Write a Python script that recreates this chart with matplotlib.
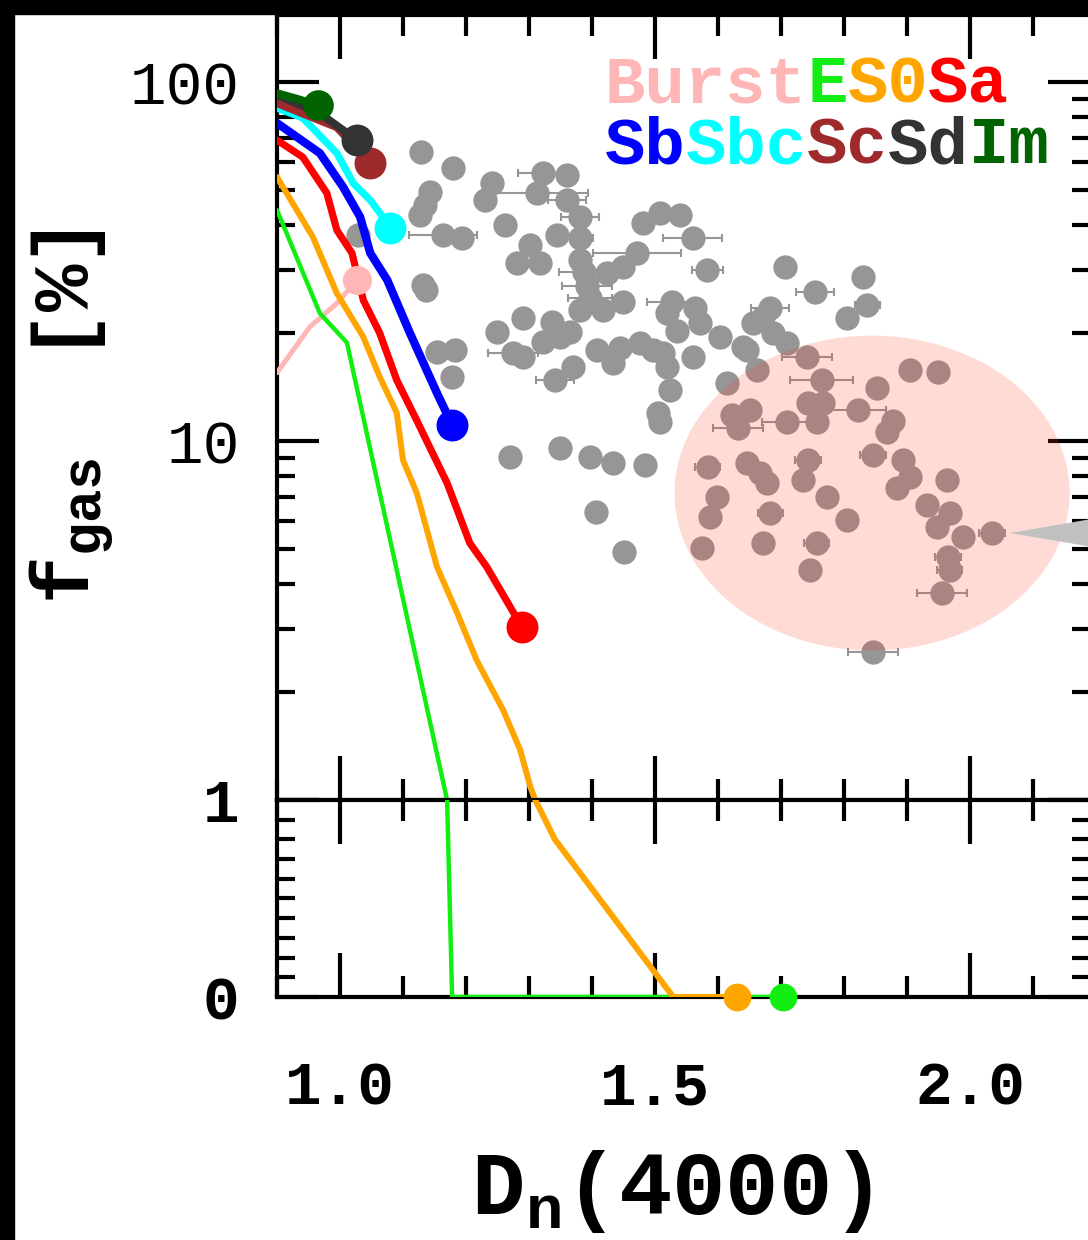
import matplotlib.pyplot as plt
import matplotlib.ticker as mticker
from matplotlib.patches import Ellipse, Polygon, Rectangle

plt.rcParams["font.family"] = ["Liberation Mono", "DejaVu Sans"]
plt.rcParams["mathtext.fontset"] = "custom"
plt.rcParams["mathtext.rm"] = "Liberation Mono"
plt.rcParams["mathtext.bf"] = "Liberation Mono:bold"
plt.rcParams["mathtext.it"] = "Liberation Mono:italic"

# model tracks: D_n(4000) vs f_gas [%]
burst_x = [0.90, 0.952, 0.995, 1.027]
burst_y = [15.5, 20.8, 24.2, 28.1]
e_x = [0.90, 0.968, 1.011, 1.170, 1.178, 1.703]
e_y = [44.0, 22.7, 18.8, 1.0, 0.0, 0.0]
s0_x = [0.90, 0.957, 0.995, 1.037, 1.063, 1.090, 1.100, 1.122, 1.154, 1.186,
        1.217, 1.259, 1.286, 1.302, 1.310, 1.341, 1.529, 1.630]
s0_y = [54.4, 37.0, 25.8, 19.5, 15.1, 12.0, 8.85, 7.16, 4.46, 3.32,
        2.45, 1.78, 1.38, 1.09, 1.00, 0.80, 0.0, 0.0]
sa_x = [0.90, 0.941, 0.979, 0.995, 1.019, 1.037, 1.063, 1.090, 1.122, 1.170,
        1.206, 1.233, 1.289]
sa_y = [68.9, 61.8, 49.1, 38.7, 33.4, 24.7, 20.0, 14.8, 11.4, 7.64,
        5.20, 4.46, 3.03]
sb_x = [0.90, 0.968, 1.005, 1.032, 1.048, 1.075, 1.111, 1.154, 1.178]
sb_y = [76.9, 63.4, 51.0, 42.1, 33.4, 28.1, 20.0, 13.6, 11.1]
sbc_x = [0.90, 0.941, 0.995, 1.021, 1.048, 1.068, 1.079]
sbc_y = [84.7, 79.4, 63.4, 52.3, 46.9, 42.1, 39.2]
sc_x = [0.90, 0.995, 1.048]
sc_y = [87.4, 74.9, 59.5]
sd_x = [0.90, 0.965, 1.027]
sd_y = [92.0, 82.5, 68.9]
im_x = [0.90, 0.93, 0.965]
im_y = [93.1, 90.0, 86.3]

# observed galaxies (gray points)
obs_x = [1.129, 1.179, 1.143, 1.135, 1.127, 1.163, 1.194, 1.132, 1.137, 1.154,
         1.183, 1.178, 1.029, 1.241, 1.230, 1.262, 1.322, 1.360, 1.313, 1.360,
         1.381, 1.344, 1.381, 1.302, 1.281, 1.317, 1.381, 1.387, 1.392, 1.397,
         1.471, 1.449, 1.424, 1.481, 1.508, 1.540, 1.560, 1.583, 1.381, 1.417,
         1.449, 1.290, 1.337, 1.365, 1.249, 1.275, 1.290, 1.322, 1.349, 1.341,
         1.370, 1.408, 1.433, 1.444, 1.476, 1.497, 1.513, 1.519, 1.524, 1.505,
         1.508, 1.560, 1.527, 1.519, 1.563, 1.571, 1.535, 1.603, 1.614, 1.706,
         1.754, 1.830, 1.837, 1.805, 1.683, 1.671, 1.656, 1.640, 1.687, 1.710,
         1.646, 1.662, 1.741, 1.905, 1.949, 1.270, 1.349, 1.397, 1.433, 1.484,
         1.406, 1.451, 1.765, 1.852, 1.651, 1.622, 1.632, 1.710, 1.743, 1.767,
         1.757, 1.822, 1.878, 1.868, 1.846, 1.584, 1.646, 1.667, 1.678, 1.743,
         1.735, 1.773, 1.598, 1.587, 1.575, 1.683, 1.671, 1.805, 1.746, 1.757,
         1.894, 1.905, 1.884, 1.963, 1.932, 1.968, 1.948, 1.989, 2.035, 1.965,
         1.968, 1.956, 1.846]
obs_y = [63.8, 57.6, 49.4, 45.4, 42.6, 37.5, 36.8, 27.2, 26.4, 17.7,
         17.9, 15.1, 37.5, 52.3, 46.9, 40.0, 55.8, 55.1, 49.1, 46.9,
         42.1, 37.5, 36.8, 35.2, 31.3, 31.3, 31.9, 29.5, 27.0, 25.0,
         33.4, 30.5, 29.4, 40.5, 43.2, 42.6, 36.8, 29.9, 23.2, 23.2,
         24.4, 22.0, 21.5, 20.1, 20.1, 17.6, 17.1, 18.9, 19.5, 14.8,
         16.1, 17.9, 16.5, 18.2, 18.8, 17.9, 17.6, 16.1, 13.9, 12.0,
         11.3, 17.1, 24.4, 22.7, 23.5, 21.3, 20.2, 19.5, 14.5, 30.5,
         26.0, 28.6, 23.9, 22.0, 23.5, 22.1, 21.3, 18.3, 20.0, 18.8,
         17.9, 15.8, 17.1, 15.8, 15.6, 9.02, 9.57, 9.02, 8.68, 8.57,
         6.34, 4.91, 14.8, 14.1, 12.2, 11.8, 10.9, 11.3, 12.8, 12.8,
         11.3, 12.2, 11.4, 10.6, 9.14, 8.47, 8.68, 8.15, 7.64, 8.85,
         7.78, 6.98, 6.98, 6.14, 5.04, 6.30, 5.20, 6.03, 4.37, 5.20,
         8.85, 7.94, 7.40, 7.78, 6.63, 6.30, 5.76, 5.40, 5.54, 4.75,
         4.37, 3.77, 2.58]
obs_xerr = [0, 0, 0, 0, 0, 0.054, 0, 0, 0, 0,
            0, 0, 0, 0, 0, 0, 0.04, 0, 0.08, 0.03,
            0.03, 0, 0.02, 0, 0, 0, 0, 0.04, 0.04, 0.035,
            0.07, 0, 0, 0, 0, 0, 0.047, 0.025, 0, 0,
            0, 0, 0, 0, 0, 0.04, 0, 0, 0, 0.03,
            0, 0, 0, 0, 0, 0, 0, 0, 0, 0.015,
            0.015, 0, 0.04, 0, 0, 0, 0, 0, 0, 0,
            0.03, 0, 0.02, 0, 0.03, 0, 0, 0, 0, 0,
            0, 0, 0.04, 0, 0, 0, 0, 0, 0, 0,
            0, 0, 0.05, 0, 0, 0, 0.04, 0.04, 0, 0,
            0, 0.045, 0, 0, 0.02, 0.02, 0, 0, 0, 0.02,
            0, 0, 0, 0, 0, 0.02, 0, 0, 0, 0.02,
            0, 0, 0, 0, 0, 0, 0, 0, 0.02, 0.02,
            0.02, 0.04, 0.04]

legend_row1 = [("Burst", "#FFB6B6"), ("E", "#11EE11"), ("S0", "#FFA500"), ("Sa", "#FF0000")]
legend_row2 = [("Sb", "#0000FF"), ("Sbc", "#00FFFF"), ("Sc", "#9E2A2B"), ("Sd", "#333333"), ("Im", "#006400")]

fig = plt.figure(figsize=(10.88, 12.4), dpi=100)
ax = fig.add_axes([0.2546, 0.3548, 0.7472, 0.6331])
ax2 = fig.add_axes([0.2546, 0.1960, 0.7472, 0.1589])

gray = "#969696"
ax.errorbar(obs_x, obs_y, xerr=obs_xerr, fmt="none", ecolor=gray,
            elinewidth=1.5, capsize=3, capthick=1.5, zorder=1)
ax.plot(obs_x, obs_y, "o", color=gray, ms=17.5, mec="none", zorder=1.5)

ax.add_patch(Ellipse((0.732, 0.391), 0.486, 0.401, transform=ax.transAxes,
                     color="#FF3A20", alpha=0.18, lw=0, zorder=3))
ax.add_patch(Polygon([(0.9016, 0.3401), (1.08, 0.372), (1.08, 0.309)],
                     closed=True, transform=ax.transAxes, color="#C0C0C0",
                     lw=0, zorder=4, clip_on=False))

tracks = [
    (burst_x, burst_y, "#FFB6B6", 3.6, 21),
    (e_x, e_y, "#11EE11", 3.2, 20),
    (s0_x, s0_y, "#FFA500", 4.3, 20),
    (sa_x, sa_y, "#FF0000", 5.2, 23),
    (sb_x, sb_y, "#0000FF", 6.0, 23),
    (sbc_x, sbc_y, "#00FFFF", 5.2, 23),
    (sc_x, sc_y, "#9E2A2B", 5.8, 23),
    (sd_x, sd_y, "#333333", 5.8, 23),
    (im_x, im_y, "#006400", 5.8, 22),
]
for i, (tx, ty, c, lw, ms) in enumerate(tracks):
    for a in (ax, ax2):
        a.plot(tx, ty, "-", color=c, lw=lw, zorder=5 + i * 0.1,
               solid_joinstyle="round", solid_capstyle="round")
    # end-point marker
    target = ax if ty[-1] > 0 else ax2
    target.plot(tx[-1], ty[-1], "o", color=c, ms=ms, mec="none",
                zorder=6 + i * 0.1, clip_on=False)

ax.set_yscale("log")
ax.set_ylim(1, 153.8)
ax2.set_ylim(0, 1)
for a in (ax, ax2):
    a.set_xlim(0.9, 2.1905)
    a.xaxis.set_major_locator(mticker.MultipleLocator(0.5))
    a.xaxis.set_minor_locator(mticker.MultipleLocator(0.1))
    a.tick_params(which="both", direction="in", top=True, right=True,
                  width=3, labelsize=44, pad=27)
    a.tick_params(axis="x", which="major", length=32)
    a.tick_params(axis="x", which="minor", length=15)
    a.tick_params(axis="y", which="major", length=30)
    a.tick_params(axis="y", which="minor", length=13)
    for s in a.spines.values():
        s.set_linewidth(3)

ax.set_yticks([1, 10, 100])
ax.set_yticklabels(["", "10", "100"])
ax.yaxis.set_minor_locator(mticker.LogLocator(base=10, subs=range(2, 10)))
ax.yaxis.set_minor_formatter(mticker.NullFormatter())
ax.tick_params(labelbottom=False)

ax2.set_yticks([0, 1])
ax2.set_yticklabels(["0", "1"], fontweight="bold")
ax2.yaxis.set_minor_locator(mticker.MultipleLocator(0.1))
ax2.set_xticks([1.0, 1.5, 2.0])
ax2.set_xticklabels(["1.0", "1.5", "2.0"], fontweight="bold")
ax2.tick_params(axis="x", pad=45)

# colored legend words
fs = 48.5
for row, ybase in ((legend_row1, 0.889), (legend_row2, 0.811)):
    n = 0
    for word, c in row:
        ax.annotate(word, xy=(0.4034, ybase), xycoords="axes fraction",
                    xytext=(n * 0.6 * fs, 0), textcoords="offset points",
                    color=c, fontsize=fs, fontweight="bold", va="baseline",
                    ha="left", zorder=10)
        n += len(word)

fig.text(0.617, 0.021, r"$\mathbf{D_n}$(4000)", fontsize=64,
         fontweight="bold", ha="center", va="baseline")
fig.text(0.066, 0.664, r"$\mathbf{f_{gas}}$  [%]", fontsize=57,
         fontweight="bold", rotation=90, ha="center", va="center")

fig.patches.append(Rectangle((0, 0), 14 / 1088, 1, transform=fig.transFigure,
                             color="black", zorder=20))
fig.patches.append(Rectangle((0, 1 - 14 / 1240), 1, 14 / 1240,
                             transform=fig.transFigure, color="black", zorder=20))

fig.savefig("out.png", dpi=100)
